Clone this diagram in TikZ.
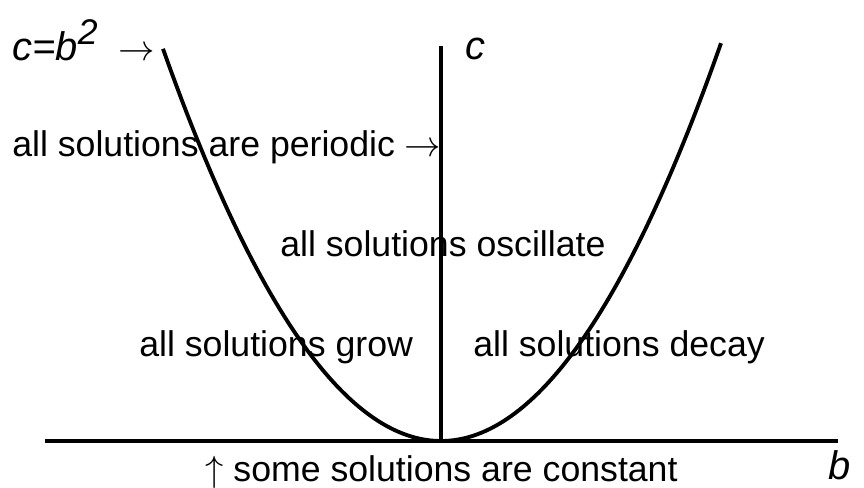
\documentclass[tikz,border=0pt]{standalone}
\usepackage{fontspec}
\setmainfont{Liberation Sans}
\usepackage{tikz}
\usetikzlibrary{calc,positioning}

\tikzset{
  lbl/.style={anchor=base west,inner sep=0pt,font=\fontsize{20.3}{24}\selectfont},
  varlbl/.style={anchor=base west,inner sep=0pt,font=\fontsize{22.7}{27}\selectfont\itshape},
  axisline/.style={line width=2.8pt},
  curveline/.style={line width=2.2pt}
}

\begin{document}
\begin{tikzpicture}[x=0.02cm,y=0.02cm]
          \useasboundingbox (0,0) rectangle (864,487);
          % axes
          \coordinate (bleft) at (45,46);
          \coordinate (bright) at (838,46);
          \coordinate (vertex) at (441,46);
          \coordinate (ctop) at (441,441);
          \draw[axisline] (bleft) -- (bright);
          \draw[curveline] (vertex) -- (ctop);
          % the parabola c=b^2
          \draw[curveline,line join=round] plot[domain=-278:280,samples=120] ({441+\x},{46+395*(\x/279)^2});
          % labels
          \node[varlbl] (cb) at (12,426) {c=b\raisebox{0.42em}{\fontsize{20.3}{24}\selectfont 2}\hspace{12pt}$\rightarrow$};
          \node[varlbl] (caxis) at (465,427) {c};
          \node[varlbl] (baxis) at (828,8) {b};
          \node[lbl] (periodic) at (12,330) {all solutions are periodic $\rightarrow$};
          \node[lbl] (oscillate) at (280,231) {all solutions oscillate};
          \node[lbl] (grow) at (139,131) {all solutions grow};
          \node[lbl] (decay) at (473,131) {all solutions decay};
          \node[lbl] (constant) at (205,6) {$\uparrow$ some solutions are constant};
        \end{tikzpicture}
\end{document}
